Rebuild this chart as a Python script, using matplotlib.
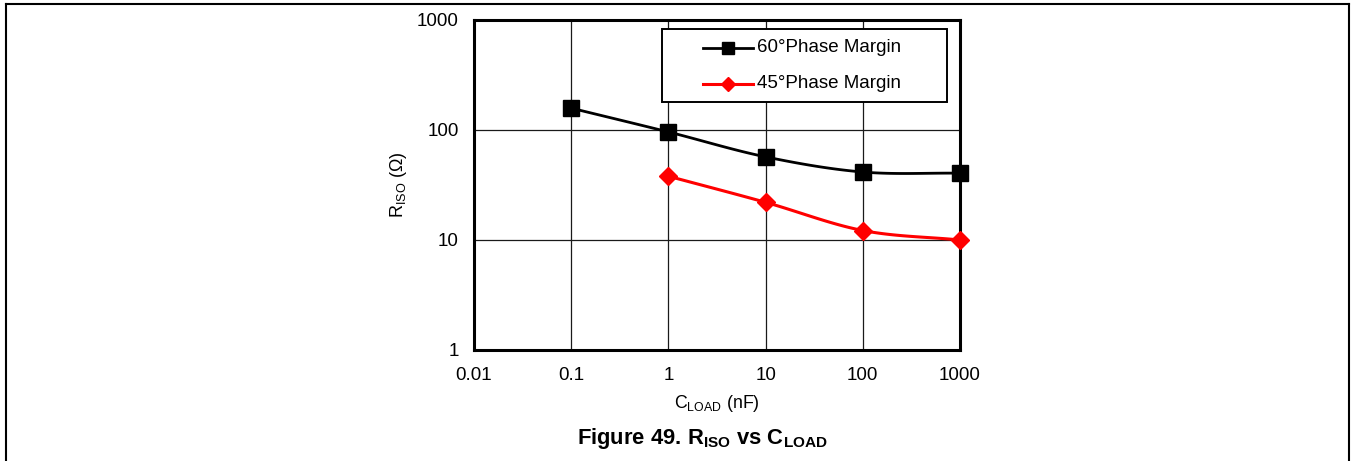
import numpy as np
import matplotlib
matplotlib.use("Agg")
import matplotlib.pyplot as plt
from matplotlib.lines import Line2D
from matplotlib.patches import Rectangle

plt.rcParams['font.family'] = ['Liberation Sans', 'DejaVu Sans']
plt.rcParams['mathtext.fontset'] = 'custom'
plt.rcParams['mathtext.rm'] = 'Liberation Sans'
plt.rcParams['mathtext.bf'] = 'Liberation Sans:bold'

# Data
c60 = [0.1, 1, 10, 100, 1000]
r60 = [158, 96, 57, 41.5, 40.5]
c45 = [1, 10, 100, 1000]
r45 = [38, 22, 12.2, 10]
labels = ['60°Phase Margin', '45°Phase Margin']
xticks = [0.01, 0.1, 1, 10, 100, 1000]
xticklabels = ['0.01', '0.1', '1', '10', '100', '1000']
yticks = [1, 10, 100, 1000]
yticklabels = ['1', '10', '100', '1000']

W, H = 1351, 461
FS = 13.5


def smooth(x, y, n=30):
    # Catmull-Rom smoothing in log-log space (Excel-like smoothed line)
    lx = np.log10(np.asarray(x, float))
    ly = np.log10(np.asarray(y, float))
    P = np.column_stack([lx, ly])
    P = np.vstack([P[0] - (P[1] - P[0]), P, P[-1] + (P[-1] - P[-2])])
    out = []
    for i in range(1, len(P) - 2):
        p0, p1, p2, p3 = P[i - 1], P[i], P[i + 1], P[i + 2]
        t = np.linspace(0, 1, n)[:, None]
        seg = 0.5 * ((2 * p1) + (-p0 + p2) * t
                     + (2 * p0 - 5 * p1 + 4 * p2 - p3) * t ** 2
                     + (-p0 + 3 * p1 - 3 * p2 + p3) * t ** 3)
        out.append(seg)
    out = np.vstack(out)
    return 10 ** out[:, 0], 10 ** out[:, 1]


def fx(px):
    return px / W


def fy(py):
    return 1 - py / H


fig = plt.figure(figsize=(W / 100, H / 100), dpi=100)
ax = fig.add_axes([fx(474), fy(350), (960 - 474) / W, (350 - 20) / H])

ax.set_xscale('log')
ax.set_yscale('log')
ax.set_xlim(0.01, 1000)
ax.set_ylim(1, 1000)

styles = [dict(color='black', lw=2.0, marker='s', ms=12, lms=8.5),
          dict(color='#ff0000', lw=2.2, marker='D', ms=9.5, lms=7)]

for (cx, ry), st in zip([(c60, r60), (c45, r45)], styles):
    sx, sy = smooth(cx, ry)
    ax.plot(sx, sy, color=st['color'], lw=st['lw'], zorder=3)
    ax.plot(cx, ry, ls='none', marker=st['marker'], ms=st['ms'], color=st['color'],
            zorder=4, clip_on=False)

ax.set_xticks(xticks)
ax.set_xticklabels(xticklabels)
ax.set_yticks(yticks)
ax.set_yticklabels(yticklabels)
ax.minorticks_off()
ax.tick_params(axis='both', length=0, labelsize=FS)
ax.tick_params(axis='x', pad=12)
ax.tick_params(axis='y', pad=11)
ax.grid(True, which='major', color='#1a1a1a', lw=0.9)
for s in ax.spines.values():
    s.set_linewidth(2.2)

ax.set_xlabel(r'C$_{\mathregular{LOAD}}$ (nF)', fontsize=12.8, va='center')
ax.xaxis.set_label_coords((717 - 474) / 486, (350 - 403) / 330)
ax.set_ylabel(r'R$_{\mathregular{ISO}}$ ($\Omega$)', fontsize=13, va='center')
ax.yaxis.set_label_coords((399 - 474) / 486, (350 - 185) / 330)

# legend drawn manually
fig.add_artist(Rectangle((fx(662), fy(102)), (947 - 662) / W, (102 - 29) / H,
                         transform=fig.transFigure, facecolor='white',
                         edgecolor='black', lw=1.4, zorder=5))
for yy, lab, st in zip([48, 84], labels, styles):
    fig.add_artist(Line2D([fx(703), fx(753)], [fy(yy), fy(yy)], transform=fig.transFigure,
                          color=st['color'], lw=st['lw'], zorder=6))
    fig.add_artist(Line2D([fx(728)], [fy(yy)], transform=fig.transFigure, ls='none',
                          marker=st['marker'], ms=st['lms'], color=st['color'], zorder=7))
    fig.text(fx(757), fy(yy), lab, ha='left', va='center', fontsize=FS, zorder=8)

fig.text(fx(702), fy(438), r'Figure 49. R$_{\mathregular{ISO}}$ vs C$_{\mathregular{LOAD}}$',
         ha='center', va='center', fontsize=15.8, fontweight='bold')

# outer frame
for xs, ys in [([6, 6], [470, 4]), ([6, 1349], [4, 4]), ([1349, 1349], [4, 470])]:
    fig.add_artist(Line2D([fx(v) for v in xs], [fy(v) for v in ys],
                          transform=fig.transFigure, color='black', lw=1.5))

fig.savefig('out.png', dpi=100)
